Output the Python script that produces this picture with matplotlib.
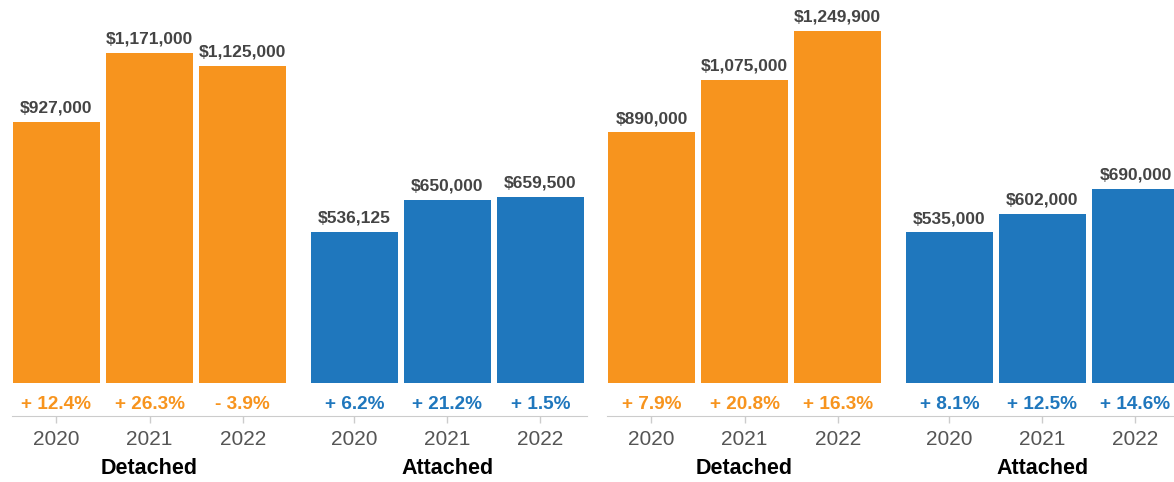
import numpy as np
import matplotlib.pyplot as plt

# --- Data ---
years = ['2020', '2021', '2022']
groups = ['Detached', 'Attached']

left_detached = [927000, 1171000, 1125000]
left_attached = [536125, 650000, 659500]
left_detached_chg = ['+ 12.4%', '+ 26.3%', '- 3.9%']
left_attached_chg = ['+ 6.2%', '+ 21.2%', '+ 1.5%']

right_detached = [890000, 1075000, 1249900]
right_attached = [535000, 602000, 690000]
right_detached_chg = ['+ 7.9%', '+ 20.8%', '+ 16.3%']
right_attached_chg = ['+ 8.1%', '+ 12.5%', '+ 14.6%']

orange = '#F7941E'
blue = '#1F77BD'

plt.rcParams['font.family'] = ['Liberation Sans', 'DejaVu Sans']

fig = plt.figure(figsize=(11.74, 4.82), dpi=100)

W, H = 1174, 482
pos_det = np.array([0, 1, 2])
pos_att = np.array([3.2, 4.2, 5.2])
bar_w = 0.935


def panel(left_px, detached, attached, det_chg, att_chg):
    ax = fig.add_axes([left_px / W, 99 / H, 575 / W, 383 / H])
    ax.set_xlim(-0.478, 5.70)
    ax.set_ylim(0, 1360500)
    for pos, vals, chg, col in [(pos_det, detached, det_chg, orange),
                                (pos_att, attached, att_chg, blue)]:
        ax.bar(pos, vals, width=bar_w, color=col)
        for x, v, c in zip(pos, vals, chg):
            # value above bar
            ax.annotate('${:,}'.format(v), xy=(x, v), xytext=(0, 10),
                        textcoords='offset points', ha='center', va='center',
                        fontsize=12.5, fontweight='bold', color='#444444')
            # change below bar
            ax.annotate(c, xy=(x, 0), xycoords=('data', 'axes fraction'),
                        xytext=(0, -15.5), textcoords='offset points',
                        ha='center', va='center', fontsize=13.7,
                        fontweight='bold', color=col)
    for g, pos in zip(groups, [pos_det, pos_att]):
        ax.annotate(g, xy=(pos.mean(), 0), xycoords=('data', 'axes fraction'),
                    xytext=(0, -61.5), textcoords='offset points',
                    ha='center', va='center', fontsize=15.5,
                    fontweight='bold', color='black')
    ax.set_xticks(np.concatenate([pos_det, pos_att]))
    ax.set_xticklabels(years * 2)
    ax.tick_params(axis='x', length=5, width=1, color='#cccccc', pad=5,
                   labelsize=15, labelcolor='#555555')
    ax.set_yticks([])
    for s in ['left', 'top', 'right']:
        ax.spines[s].set_visible(False)
    ax.spines['bottom'].set_position(('outward', 24))
    ax.spines['bottom'].set_color('#cccccc')
    ax.patch.set_visible(False)
    return ax


panel(12, left_detached, left_attached, left_detached_chg, left_attached_chg)
panel(607, right_detached, right_attached, right_detached_chg, right_attached_chg)

fig.savefig('out.png', dpi=100)
